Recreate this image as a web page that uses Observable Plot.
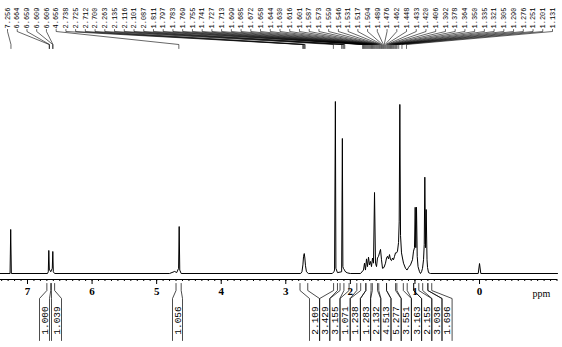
<!DOCTYPE html>
<html><head><meta charset="utf-8">
<script src="https://cdn.jsdelivr.net/npm/d3@7"></script>
<script src="https://cdn.jsdelivr.net/npm/@observablehq/plot@0.6"></script>
<style>html,body{margin:0;padding:0;background:#fff}svg{display:block}</style>
</head><body><div id="chart"></div>
<script>
// ---- DATA ----
const tracePpm = [7.42,7.27,7.26,7.25,6.69,6.678,6.670,6.662,6.640,6.616,6.608,6.600,6.58,4.80,4.72,4.69,4.66,4.651,4.642,4.62,
 2.77,2.75,2.735,2.725,2.714,2.705,2.695,2.68,2.65,2.28,2.255,2.245,2.232,2.224,2.20,2.135,2.124,2.116,2.108,2.098,2.085,2.07,2.04,2.0,
 1.843,1.797,1.781,1.766,1.750,1.735,1.719,1.704,1.688,1.673,1.657,1.642,1.626,1.611,1.595,1.580,1.564,1.549,1.533,1.518,1.502,1.479,1.456,1.440,1.425,1.409,1.394,1.378,1.363,1.347,1.332,1.316,1.301,1.285,1.270,1.254,1.244,1.234,1.223,1.208,1.193,1.177,1.146,1.123,1.100,1.069,1.038,1.022,1.007,0.996,0.987,0.976,0.965,0.952,0.929,0.914,0.898,0.883,0.867,0.856,0.847,0.836,0.826,0.813,0.805,0.790,0.759,
 0.02,0.0,-0.02,-1.208];
const traceInt = [0,0,0.256,0,0,0.01,0.134,0.025,0.01,0.03,0.128,0.01,0,0,0.012,0.005,0.03,0.273,0.02,0,
 0,0.01,0.05,0.10,0.116,0.09,0.045,0.01,0,0,0.01,0.02,1.0,0.03,0.005,0.01,0.785,0.04,0.03,0.025,0.015,0.008,0.003,0,
 0,0.02,0.06,0.02,0.085,0.04,0.095,0.05,0.07,0.04,0.09,0.06,0.471,0.06,0.04,0.09,0.10,0.12,0.14,0.08,0.03,0.035,0.06,0.09,0.10,0.085,0.11,0.08,0.075,0.09,0.08,0.10,0.12,0.12,0.13,0.18,0.30,0.983,0.22,0.12,0.09,0.06,0.03,0.02,0.035,0.05,0.08,0.13,0.15,0.385,0.15,0.385,0.10,0.04,0.01,0,0.01,0.03,0.08,0.17,0.56,0.15,0.372,0.08,0.035,0.005,0,
 0,0.058,0,0];

const peakLabels = ["7.256","6.664","6.659","6.609","6.606","4.656","2.738","2.725","2.712","2.700","2.263","2.135","2.116","2.101","2.087",
 "1.811","1.797","1.783","1.769","1.755","1.741","1.727","1.713","1.699","1.685","1.672","1.658","1.644","1.630","1.616","1.601","1.587",
 "1.573","1.559","1.546","1.531","1.517","1.504","1.489","1.476","1.462","1.448","1.433","1.420","1.406","1.392","1.378","1.364","1.350",
 "1.335","1.321","1.305","1.290","1.276","1.251","1.201","1.131"];

const integralLabels = ["1.000","1.039","1.056","2.109","3.429","3.155","1.071","1.238","1.283","2.132","4.513","5.277","3.551","3.163","2.155","3.036","1.696"];
const integralFrom = [6.70,6.63,4.70,2.78,2.26,2.16,2.02,1.84,1.76,1.66,1.56,1.44,1.28,1.12,1.02,0.88,0.80];
const integralTo   = [6.64,6.58,4.62,2.66,2.20,2.10,1.90,1.76,1.68,1.58,1.44,1.30,1.18,1.02,0.94,0.80,0.74];

const axisTicks = [7,6,5,4,3,2,1,0];

// ---- LAYOUT ----
const W = 562, H = 347;
const X0 = 7.418, X1 = -1.285;           // ppm at left / right edge
const BASE_PX = 273, TOP_PX = 101;       // baseline and tallest peak
const px2ppm = px => X0 + px * (X1 - X0) / W;
const py2h = py => (BASE_PX - py) / (BASE_PX - TOP_PX);
const AXIS_PX = 279;
const integralBoxPx = [44, 56, 177, 314, 324.2, 334.4, 344.6, 354.8, 365, 375.2, 385.4, 395.6, 405.8, 416, 426.2, 436.4, 446.6];

const trace = tracePpm.map((p, i) => ({ppm: p, h: traceInt[i]}));

// top label positions: evenly spread in pixels
const labStart = 7, labEnd = 552;
const tops = peakLabels.map((t, i) => ({
  text: t, val: +t,
  lx: px2ppm(labStart + i * (labEnd - labStart) / (peakLabels.length - 1))
}));
const topConn = [];
tops.forEach((d, i) => {
  topConn.push({id: i, x: d.lx, y: py2h(29)});
  topConn.push({id: i, x: d.lx, y: py2h(31)});
  topConn.push({id: i, x: d.val, y: py2h(44)});
  topConn.push({id: i, x: d.val, y: py2h(48)});
});

const ints = integralLabels.map((t, i) => ({text: t, c: px2ppm(integralBoxPx[i]),
  l: px2ppm(integralBoxPx[i] - 5), r: px2ppm(integralBoxPx[i] + 5), from: integralFrom[i], to: integralTo[i]}));
const intConn = [];
ints.forEach((d, i) => {
  [[d.from, d.l], [d.to, d.r]].forEach(([a, b], k) => {
    const id = i * 2 + k;
    intConn.push({id, x: a, y: py2h(283)});
    intConn.push({id, x: a, y: py2h(290)});
    intConn.push({id, x: b, y: py2h(298)});
    intConn.push({id, x: b, y: py2h(340)});
  });
});

const minorTicks = d3.range(-12, 75).map(i => i / 10);

const chart = Plot.plot({
  width: W, height: H,
  margin: 0,
  x: {domain: [X0, X1], range: [0, W], axis: null},
  y: {domain: [0, 1], range: [BASE_PX, TOP_PX], axis: null},
  style: {background: "#fff"},
  marks: [
    Plot.line(trace, {x: "ppm", y: "h", stroke: "#000", strokeWidth: 1}),
    Plot.ruleY([py2h(AXIS_PX)], {x1: X0, x2: px2ppm(557), stroke: "#000", strokeWidth: 1}),
    Plot.ruleX(minorTicks, {x: d => d, y1: py2h(AXIS_PX), y2: py2h(AXIS_PX + 2), stroke: "#000", strokeWidth: 1}),
    Plot.ruleX(axisTicks, {x: d => d, y1: py2h(AXIS_PX), y2: py2h(AXIS_PX + 5), stroke: "#000", strokeWidth: 1}),
    Plot.text(axisTicks, {x: d => d, y: py2h(291), text: d => String(d), fontSize: 11, fontWeight: "bold", fontFamily: "Liberation Serif", fill: "#000"}),
    Plot.text(["ppm"], {x: px2ppm(541), y: py2h(293), text: d => d, fontSize: 10, fontFamily: "Liberation Serif", fill: "#000"}),
    Plot.text(tops, {x: "lx", y: py2h(28), text: "text", rotate: -90, textAnchor: "start", fontSize: 7, fontFamily: "Liberation Mono", fill: "#000", letterSpacing: "0.3px"}),
    Plot.line(topConn, {x: "x", y: "y", z: "id", stroke: "#000", strokeWidth: 0.6}),
    Plot.line(intConn, {x: "x", y: "y", z: "id", stroke: "#000", strokeWidth: 0.7}),
    Plot.text(ints, {x: "c", y: py2h(320), text: "text", rotate: -90, fontSize: 9.5, fontFamily: "Liberation Mono", fill: "#000", letterSpacing: "0.8px"})
  ]
});
document.getElementById("chart").appendChild(chart);
</script>
</body></html>
